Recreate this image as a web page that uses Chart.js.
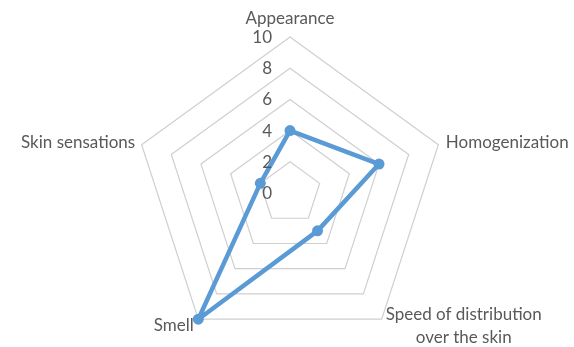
<!DOCTYPE html>
<html>
<head>
<meta charset="utf-8">
<title>Sensory profile</title>
<script src="https://cdn.jsdelivr.net/npm/chart.js@4.4.1/dist/chart.umd.min.js"></script>
<style>
  html, body { margin: 0; padding: 0; background: #ffffff; overflow: hidden; }
  #wrap { width: 574px; height: 349px; }
</style>
</head>
<body>
<div id="wrap"><canvas id="chart" width="574" height="349"></canvas></div>
<script>
// Sensory attributes (one spoke each) and the panel scores
const CATEGORIES = ['Appearance', 'Homogenization', ['Speed of distribution', 'over the skin'], 'Smell', 'Skin sensations'];
const SCORES = [4, 6, 3, 10, 2];
const TICK_VALUES = [0, 2, 4, 6, 8, 10];

const LINE_COLOR = '#5B9BD5';
const GRID_COLOR = '#CFCFCF';
const TEXT_COLOR = '#595959';
const FONT_FAMILY = 'Lato, "Open Sans", sans-serif';
const FONT_SIZE = 17;

// Where each attribute name sits relative to its outer vertex
const LABEL_PLACEMENT = [
  { align: 'center', dx: 0,    dy: -13.5 },
  { align: 'left',   dx: 7.5,  dy: 3.5 },
  { align: 'center', dx: 82,   dy: 0.8 },
  { align: 'right',  dx: -4.5, dy: 11.5 },
  { align: 'right',  dx: -6.5, dy: 3.5 }
];
const LINE_HEIGHT = 22.7;

// Draws the value labels beside the vertical axis and the attribute names
const axisText = {
  id: 'axisText',
  afterDatasetsDraw(chart) {
    const scale = chart.scales.r;
    const ctx = chart.ctx;
    ctx.save();
    ctx.fillStyle = TEXT_COLOR;
    ctx.font = FONT_SIZE + 'px ' + FONT_FAMILY;
    ctx.textBaseline = 'alphabetic';

    ctx.textAlign = 'right';
    scale.ticks.forEach(t => {
      const d = scale.getDistanceFromCenterForValue(t.value);
      ctx.fillText(String(t.value), scale.xCenter - 18, scale.yCenter - d + 6);
    });

    chart.data.labels.forEach((label, i) => {
      const p = scale.getPointPosition(i, scale.drawingArea);
      const place = LABEL_PLACEMENT[i];
      const lines = Array.isArray(label) ? label : [label];
      ctx.textAlign = place.align;
      lines.forEach((line, k) => {
        ctx.fillText(line, p.x + place.dx, p.y + place.dy + k * LINE_HEIGHT);
      });
    });
    ctx.restore();
  }
};

new Chart(document.getElementById('chart'), {
  type: 'radar',
  data: {
    labels: CATEGORIES,
    datasets: [{
      data: SCORES,
      borderColor: LINE_COLOR,
      backgroundColor: LINE_COLOR,
      borderWidth: 4.5,
      borderJoinStyle: 'round',
      fill: false,
      pointRadius: 5.5,
      pointBorderWidth: 0,
      pointBackgroundColor: LINE_COLOR,
      clip: false
    }]
  },
  options: {
    responsive: false,
    animation: false,
    events: [],
    layout: { padding: { top: 37, left: 6, right: 0, bottom: 0 } },
    plugins: { legend: { display: false }, tooltip: { enabled: false } },
    scales: {
      r: {
        min: 0,
        max: 10,
        afterBuildTicks(scale) {
          scale.ticks = TICK_VALUES.map(v => ({ value: v }));
        },
        ticks: { display: false },
        pointLabels: { display: false },
        angleLines: { display: false },
        grid: { color: GRID_COLOR, lineWidth: 1.2 }
      }
    }
  },
  plugins: [axisText]
});
</script>
</body>
</html>
